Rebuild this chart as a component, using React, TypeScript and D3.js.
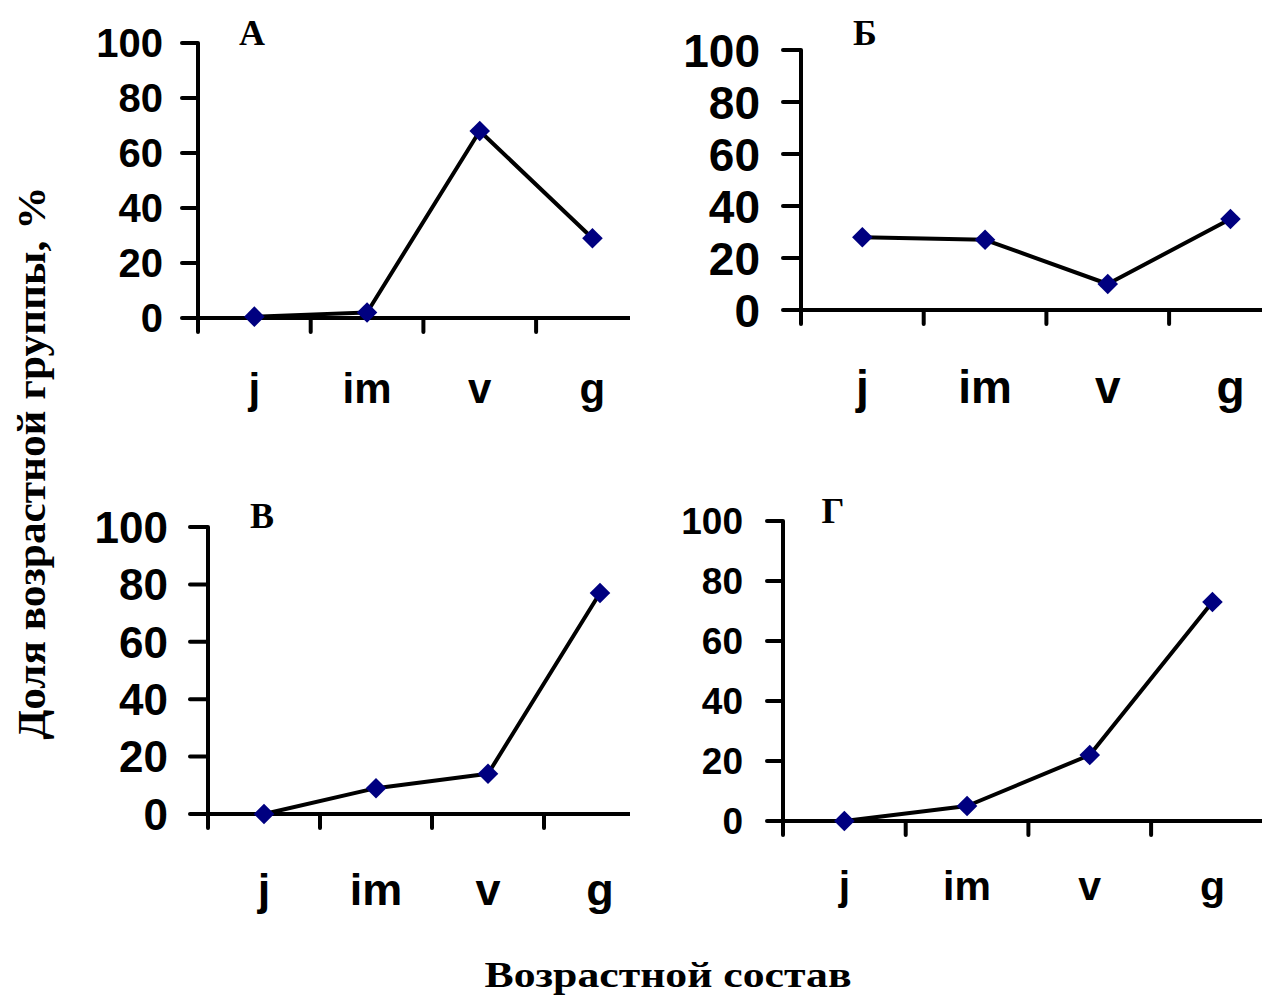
import React from "react";
import * as d3 from "d3";

// age groups on the x axis
const categories = ["j", "im", "v", "g"];
const yTicks = [0, 20, 40, 60, 80, 100];

// share of each age group, %
const valuesA = [0.5, 2, 68, 29];
const valuesB = [28, 27, 10, 35];
const valuesV = [0, 9, 14, 77];
const valuesG = [0, 5, 22, 73];

const titles = ["А", "Б", "В", "Г"];

const panels = [
  { values: valuesA, title: titles[0], x0: 198, bw: 112.7, yTop: 43, yBot: 318, end: 630, tick: 16, tickFont: 40, catFont: 42, catY: 403, labelX: 163, titleX: 252, titleY: 45 },
  { values: valuesB, title: titles[1], x0: 801, bw: 122.7, yTop: 50, yBot: 310, end: 1262, tick: 18, tickFont: 46, catFont: 46, catY: 403, labelX: 760, titleX: 865, titleY: 45 },
  { values: valuesV, title: titles[2], x0: 208, bw: 112, yTop: 527, yBot: 814, end: 630, tick: 18, tickFont: 44, catFont: 45, catY: 905, labelX: 168, titleX: 262, titleY: 528 },
  { values: valuesG, title: titles[3], x0: 783, bw: 122.7, yTop: 521, yBot: 821, end: 1262, tick: 16, tickFont: 37, catFont: 41, catY: 900, labelX: 743, titleX: 833, titleY: 523 },
];

const serif = "'Liberation Serif', 'Times New Roman', serif";
const sans = "'Liberation Sans', Arial, sans-serif";

function Panel({ p }) {
  const x = d3.scaleBand().domain(categories).range([p.x0, p.x0 + p.bw * 4]);
  const y = d3.scaleLinear().domain([0, 100]).range([p.yBot, p.yTop]);
  const cx = (c) => x(c) + x.bandwidth() / 2;
  const line = d3.line().x((d, i) => cx(categories[i])).y((d) => y(d));
  const diamond = d3.symbol().type(d3.symbolDiamond2).size(270);
  const xTicks = categories.map((c) => x(c)).filter((v) => v <= p.end);
  return (
    <g>
      <text x={p.titleX} y={p.titleY} textAnchor="middle" fontFamily={serif} fontWeight="bold" fontSize={36}>
        {p.title}
      </text>
      {/* y axis */}
      <line x1={p.x0} x2={p.x0} y1={y(100)} y2={y(0) + 14} stroke="#000" strokeWidth={4} />
      {yTicks.map((t) => (
        <g key={t}>
          <line x1={p.x0 - p.tick} x2={p.x0} y1={y(t)} y2={y(t)} stroke="#000" strokeWidth={4} strokeLinecap="round" />
          <text x={p.labelX} y={y(t)} dy="0.36em" textAnchor="end" fontFamily={sans} fontWeight="bold" fontSize={p.tickFont}>
            {t}
          </text>
        </g>
      ))}
      {/* x axis */}
      <line x1={p.x0} x2={p.end} y1={y(0)} y2={y(0)} stroke="#000" strokeWidth={4} />
      {xTicks.map((v, i) => (
        <line key={i} x1={v} x2={v} y1={y(0)} y2={y(0) + 14} stroke="#000" strokeWidth={4} strokeLinecap="round" />
      ))}
      {categories.map((c) => (
        <text key={c} x={cx(c)} y={p.catY} textAnchor="middle" fontFamily={sans} fontWeight="bold" fontSize={p.catFont}>
          {c}
        </text>
      ))}
      <path d={line(p.values)} fill="none" stroke="#000" strokeWidth={4} strokeLinejoin="round" />
      {p.values.map((v, i) => (
        <path key={i} d={diamond()} transform={`translate(${cx(categories[i])},${y(v)})`} fill="#000080" />
      ))}
    </g>
  );
}

export default function App() {
  return (
    <svg width={1262} height={997} style={{ position: "absolute", left: 0, top: 0, background: "#fff" }}>
      <rect width={1262} height={997} fill="#fff" />
      {panels.map((p, i) => (
        <Panel key={i} p={p} />
      ))}
      <text transform="translate(45,463) rotate(-90)" textAnchor="middle" fontFamily={serif} fontWeight="bold" fontSize={40} textLength={553} lengthAdjust="spacingAndGlyphs">
        Доля возрастной группы, %
      </text>
      <text x={668} y={987} textAnchor="middle" fontFamily={serif} fontWeight="bold" fontSize={36} textLength={367} lengthAdjust="spacingAndGlyphs">
        Возрастной состав
      </text>
    </svg>
  );
}
